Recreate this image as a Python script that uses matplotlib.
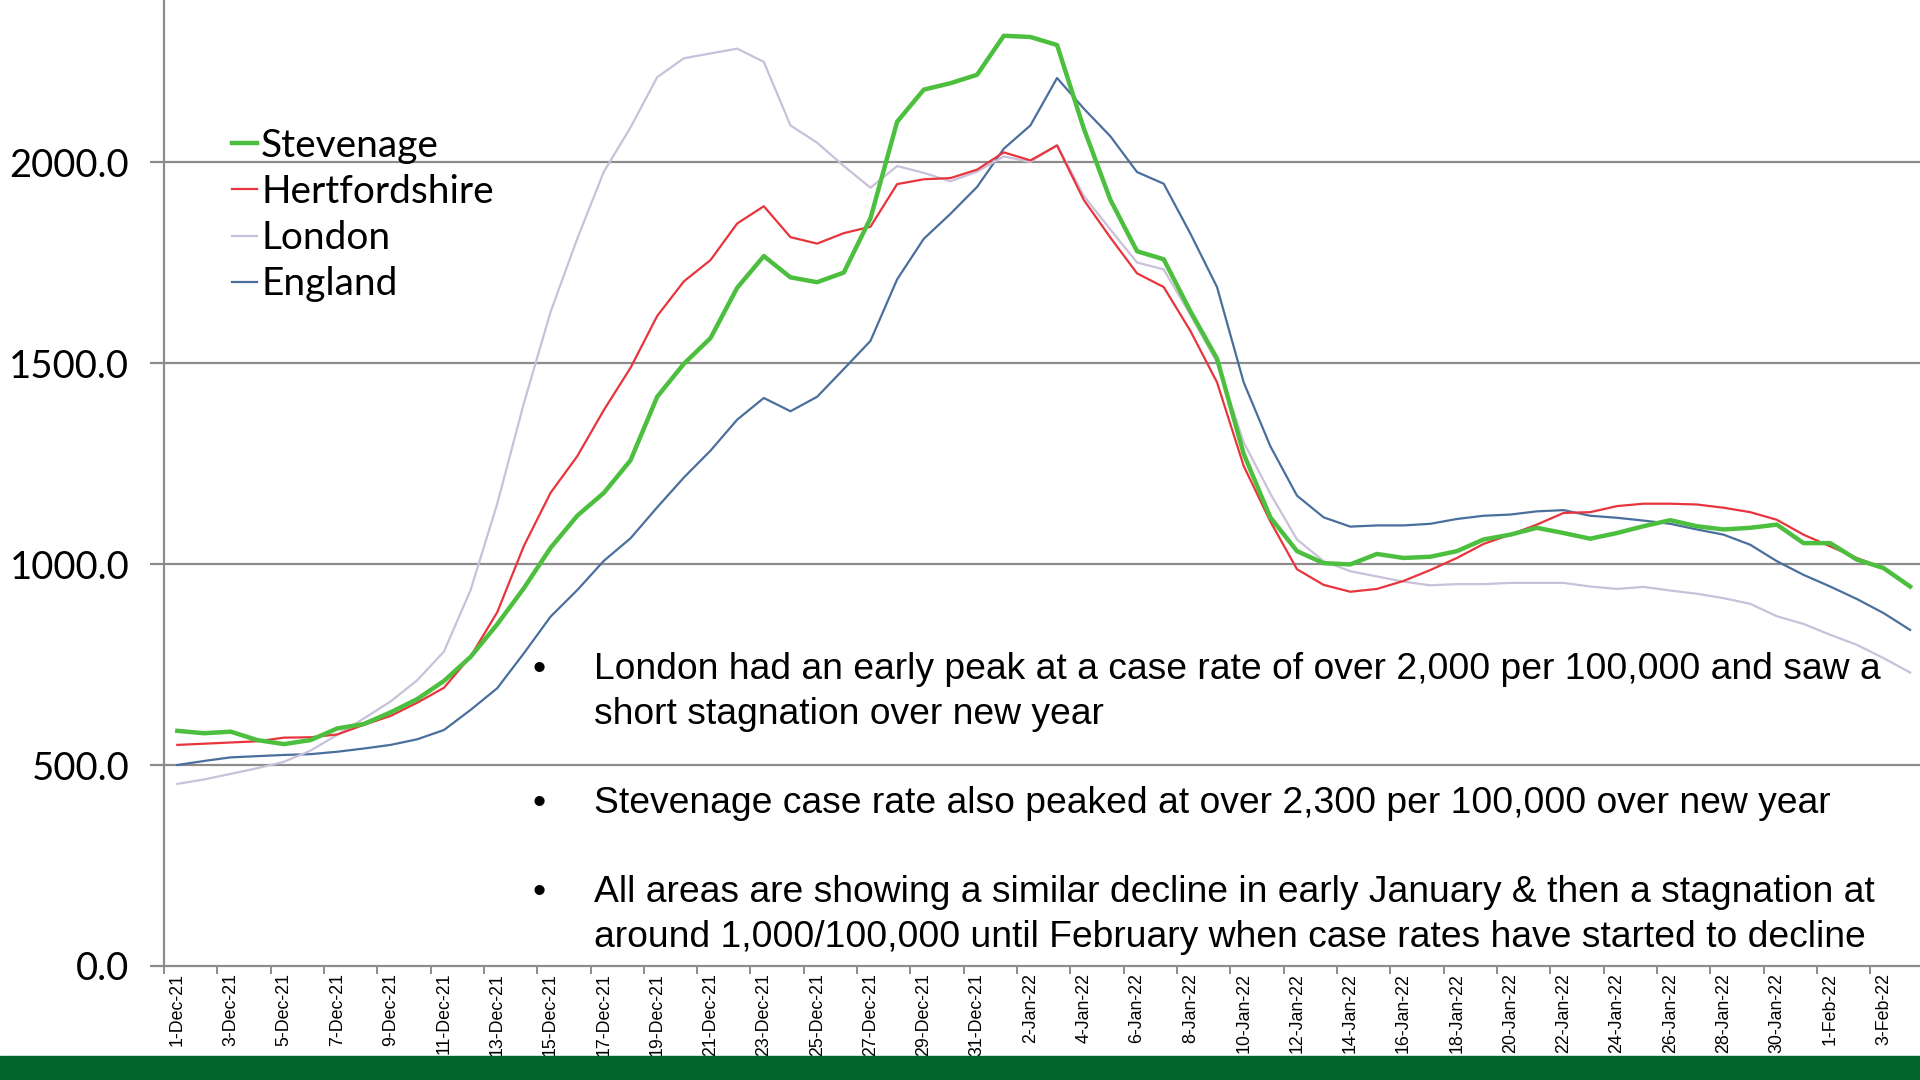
import numpy as np
import pandas as pd
import matplotlib
matplotlib.use("Agg")
import matplotlib.pyplot as plt

# daily case rates per 100,000, 1-Dec-21 .. 4-Feb-22
dates = pd.date_range("2021-12-01", periods=66, freq="D")
stevenage = [585, 579, 583, 562, 552, 562, 591, 602, 631, 664, 709, 769, 850, 940, 1040, 1120,
             1177, 1258, 1416, 1498, 1562, 1687, 1766, 1713, 1701, 1725, 1860, 2100, 2180, 2196,
             2217, 2314, 2311, 2291, 2084, 1906, 1778, 1758, 1629, 1511, 1274, 1116, 1032, 1002,
             999, 1025, 1015, 1018, 1032, 1061, 1073, 1090, 1077, 1063, 1077, 1094, 1109, 1094,
             1086, 1090, 1098, 1052, 1052, 1011, 990, 944]
hertfordshire = [550, 553, 556, 559, 568, 569, 576, 600, 622, 655, 692, 770, 880, 1045, 1177, 1268,
                 1383, 1488, 1617, 1703, 1756, 1847, 1890, 1813, 1797, 1823, 1839, 1945, 1957, 1960,
                 1981, 2024, 2004, 2041, 1906, 1812, 1723, 1689, 1580, 1452, 1244, 1106, 987, 948,
                 931, 938, 958, 985, 1015, 1050, 1073, 1098, 1127, 1129, 1144, 1150, 1150, 1148,
                 1140, 1129, 1110, 1073, 1044, 1015, 990, 944]
london = [453, 464, 478, 492, 508, 536, 575, 616, 658, 711, 782, 935, 1150, 1400, 1627, 1809,
          1976, 2086, 2211, 2258, 2270, 2282, 2249, 2091, 2048, 1990, 1936, 1990, 1973, 1952,
          1976, 2014, 2000, 2043, 1916, 1832, 1750, 1733, 1620, 1501, 1303, 1175, 1061, 1007,
          982, 969, 956, 947, 950, 950, 953, 953, 953, 944, 938, 943, 934, 926, 915, 901,
          870, 851, 824, 799, 766, 730]
england = [500, 510, 519, 522, 525, 527, 533, 541, 550, 564, 587, 637, 691, 778, 869, 935,
           1008, 1064, 1141, 1215, 1282, 1359, 1413, 1380, 1416, 1485, 1555, 1708, 1809, 1871,
           1938, 2033, 2091, 2209, 2133, 2064, 1975, 1946, 1822, 1689, 1452, 1293, 1170, 1116,
           1093, 1096, 1096, 1100, 1112, 1120, 1123, 1131, 1134, 1120, 1115, 1108, 1100, 1086,
           1073, 1048, 1007, 973, 944, 913, 878, 836]
y_ticks = [0, 500, 1000, 1500, 2000]

bullets = [
    ["London had an early peak at a case rate of over 2,000 per 100,000 and saw a",
     "short stagnation over new year"],
    ["Stevenage case rate also peaked at over 2,300 per 100,000 over new year"],
    ["All areas are showing a similar decline in early January & then a stagnation at",
     "around 1,000/100,000 until February when case rates have started to decline"],
]

labels = [f"{d.day}-{d.strftime('%b-%y')}" for d in dates]
x = np.arange(len(dates))

fig = plt.figure(figsize=(19.2, 10.8), dpi=100)
ax = fig.add_axes([164 / 1920, 1 - 966 / 1080, 1 - 164 / 1920, 966 / 1080])

grey = "#8c8c8c"
for v in y_ticks[1:]:
    ax.axhline(v, color=grey, lw=1.6, zorder=1)

ax.plot(x, england, color="#4a6f9c", lw=1.6, label="England", zorder=3)
ax.plot(x, london, color="#c9c0d9", lw=1.6, label="London", zorder=3)
ax.plot(x, hertfordshire, color="#e8343c", lw=1.6, label="Hertfordshire", zorder=4)
ax.plot(x, stevenage, color="#4cbf3f", lw=3.2, label="Stevenage", zorder=5)

ax.set_xlim(-0.5, 65.37)
ax.set_ylim(0, 2403)

for s in ["top", "right"]:
    ax.spines[s].set_visible(False)
for s in ["left", "bottom"]:
    ax.spines[s].set_color(grey)
    ax.spines[s].set_linewidth(1.6)

ax.set_yticks(y_ticks)
ax.set_yticklabels([f"{v:.1f}" for v in y_ticks], fontfamily="Lato", fontsize=27.5)
ax.tick_params(axis="y", length=10, width=1.6, color=grey, pad=15)

ax.set_xticks(x[::2])
ax.set_xticklabels(labels[::2], rotation=90, fontfamily="Liberation Sans", fontsize=12.8)
ax.set_xticks(np.arange(-0.5, 65.5, 2), minor=True)
ax.tick_params(axis="x", which="major", length=0, pad=5)
ax.tick_params(axis="x", which="minor", length=6, width=1.4, color=grey)

handles, names = ax.get_legend_handles_labels()
order = [3, 2, 1, 0]
leg = ax.legend([handles[i] for i in order], [names[i] for i in order],
                loc="upper left", bbox_to_anchor=(232 / 1920, 1 - 128 / 1080),
                bbox_transform=fig.transFigure, frameon=False,
                prop={"family": "Lato", "size": 28}, handlelength=0.65,
                handletextpad=0.1, labelspacing=0.26, borderaxespad=0, borderpad=0)

baselines = [[679, 724], [813], [902, 947]]
for lines, bls in zip(bullets, baselines):
    fig.text(533 / 1920, 1 - bls[0] / 1080, "\u2022", fontsize=26.8,
             fontfamily="Liberation Sans", va="baseline", ha="left")
    for line, bl in zip(lines, bls):
        fig.text(594 / 1920, 1 - bl / 1080, line, fontsize=26.8,
                 fontfamily="Liberation Sans", va="baseline", ha="left")

fig.patches.append(plt.Rectangle((0, 0), 1, 24 / 1080, transform=fig.transFigure,
                                 color="#00652a", zorder=10))

fig.savefig("out.png", dpi=100)
